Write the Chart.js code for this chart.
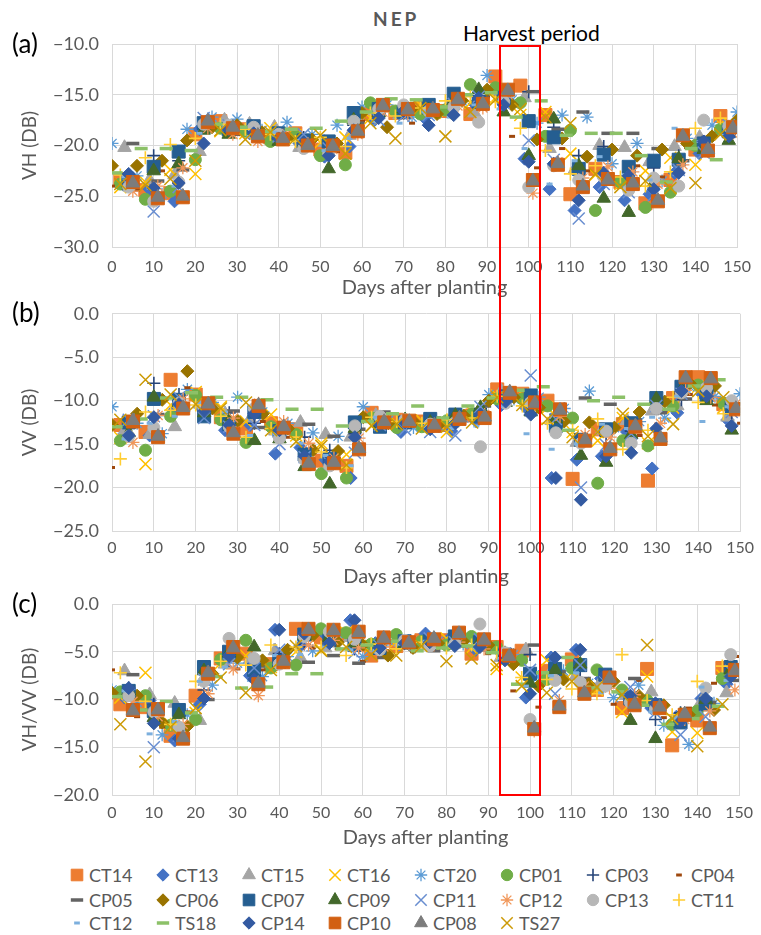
<!DOCTYPE html>
<html lang="en">
<head>
<meta charset="UTF-8">
<title>NEP backscatter after planting</title>
<script src="https://cdn.jsdelivr.net/npm/chart.js"></script>
<style>
  body { margin: 0; background: #fff; font-family: Lato, 'Open Sans', sans-serif; }
  #wrap { position: relative; width: 761px; height: 935px; overflow: hidden; }
  #wrap canvas.panel { position: absolute; left: 0; }
  .tag { position: absolute; left: 12px; font-size: 26px; color: #000; line-height: 30px; }
  #nep { position: absolute; left: 373px; top: 7px; font-size: 19px; font-weight: bold; letter-spacing: 3px; color: #595959; line-height: 24px; }
  #harvestLabel { position: absolute; left: 463px; top: 20px; font-size: 21px; color: #000; line-height: 26px; }
  #harvestBox { position: absolute; border: 2px solid #FF0000; box-sizing: border-box; pointer-events: none; }
  .leg { position: absolute; height: 22px; display: flex; align-items: center; font-size: 18px; color: #595959; white-space: nowrap; }
  .leg canvas { width: 18px; height: 18px; margin-right: 3px; }
</style>
</head>
<body>
<div id="wrap">
  <div id="nep">NEP</div>
  <div id="harvestLabel">Harvest period</div>
  <canvas class="panel" id="chartA" width="761" height="302" style="top:0px"></canvas>
  <canvas class="panel" id="chartB" width="761" height="300" style="top:290px"></canvas>
  <canvas class="panel" id="chartC" width="761" height="270" style="top:580px"></canvas>
  <div class="tag" style="top:28px">(a)</div>
  <div class="tag" style="top:297px">(b)</div>
  <div class="tag" style="top:588px">(c)</div>
  <div id="harvestBox"></div>
  <div id="legend"></div>
</div>

<script>
// Series (legend order)
const seriesNames = ['CT14', 'CT13', 'CT15', 'CT16', 'CT20', 'CP01', 'CP03', 'CP04',
                     'CP05', 'CP06', 'CP07', 'CP09', 'CP11', 'CP12', 'CP13', 'CT11',
                     'CT12', 'TS18', 'CP14', 'CP10', 'CP08', 'TS27'];

// Acquisition days (days after planting) - each field falls on one of these schedules
const daysSched0 = [0, 6, 12, 18, 24, 30, 36, 42, 48, 54, 60, 66, 72, 78, 84, 90, 96, 102, 108, 114, 120, 126, 132, 138, 144, 150];
const daysSched1 = [1, 7, 13, 19, 25, 31, 37, 43, 49, 55, 61, 67, 73, 79, 85, 91, 97, 103, 109, 115, 121, 127, 133, 139, 145];
const daysSched2 = [2, 8, 14, 20, 26, 32, 38, 44, 50, 56, 62, 68, 74, 80, 86, 92, 98, 104, 110, 116, 122, 128, 134, 140, 146];
const daysSched3 = [3, 9, 15, 21, 27, 33, 39, 45, 51, 57, 63, 69, 75, 81, 87, 93, 99, 105, 111, 117, 123, 129, 135, 141, 147];
const daysSched4 = [4, 10, 16, 22, 28, 34, 40, 46, 52, 58, 64, 70, 76, 82, 88, 94, 100, 106, 112, 118, 124, 130, 136, 142, 148];
const daysSched5 = [5, 11, 17, 23, 29, 35, 41, 47, 53, 59, 65, 71, 77, 83, 89, 95, 101, 107, 113, 119, 125, 131, 137, 143, 149];
const daySchedules = [daysSched0, daysSched1, daysSched2, daysSched3, daysSched4, daysSched5];
const seriesSchedule = [2, 3, 3, 2, 0, 2, 4, 0, 5, 0, 4, 4, 4, 5, 4, 2, 3, 1, 4, 5, 5, 2];

// (a) VH backscatter, dB
const vhValues = [
  [-23.3, -24.4, -24.7, -18.9, -17.6, -18.4, -19.2, -18.8, -20.4, -20.7, -16.9, -16.8, -16.2, -16.6, -16.9, -13.2, -14.1, -17.0, -24.8, -22.3, -23.6, -25.7, -23.4, -20.4, -17.1],
  [-23.6, -24.3, -25.5, -18.4, -18.1, -18.8, -19.3, -19.8, -21.1, -20.1, -17.5, -16.9, -17.3, -16.5, -15.9, -15.0, -21.3, -24.3, -26.4, -24.1, -25.4, -24.8, -22.7, -20.8, -18.4],
  [-20.2, -23.4, -22.9, -20.6, -17.5, -17.9, -18.2, -20.2, -19.7, -19.0, -16.6, -17.0, -16.3, -15.8, -16.8, -14.6, -15.3, -20.3, -22.4, -20.0, -20.2, -21.6, -20.1, -19.2, -18.1],
  [-24.1, -23.6, -22.4, -22.8, -18.6, -18.8, -18.3, -19.0, -19.7, -19.2, -17.3, -16.4, -16.0, -16.8, -15.8, -15.3, -17.0, -16.7, -20.8, -22.9, -23.8, -22.5, -21.2, -21.9, -17.9],
  [-19.8, -23.0, -24.8, -18.4, -17.2, -17.4, -18.5, -17.7, -18.9, -18.0, -16.2, -16.0, -17.2, -16.8, -15.6, -13.1, -15.5, -17.8, -17.0, -17.2, -21.8, -19.8, -23.5, -19.3, -18.0, -16.7],
  [-23.8, -25.3, -24.5, -21.4, -18.3, -18.6, -19.6, -19.1, -21.0, -21.9, -15.8, -16.6, -16.9, -16.5, -14.0, -14.3, -15.8, -19.1, -18.5, -26.4, -23.6, -26.1, -24.6, -20.0, -18.4],
  [-23.2, -21.0, -21.5, -18.0, -18.6, -18.3, -19.0, -19.2, -20.0, -18.0, -17.0, -16.8, -16.1, -15.7, -15.1, -15.4, -14.7, -18.2, -21.0, -20.1, -22.6, -22.2, -21.0, -19.6, -18.3],
  [-24.0, -24.4, -22.5, -19.8, -18.0, -18.9, -19.3, -19.0, -19.9, -20.6, -17.6, -16.4, -17.8, -17.0, -15.8, -15.2, -19.1, -22.2, -20.3, -22.5, -23.4, -22.0, -23.1, -20.2, -18.8, -18.3],
  [-19.8, -23.5, -22.4, -18.0, -18.9, -18.5, -19.1, -19.2, -19.6, -17.8, -16.4, -16.3, -16.9, -15.8, -15.2, -14.8, -14.7, -18.4, -16.7, -18.8, -18.8, -20.3, -21.5, -19.2, -18.5],
  [-22.0, -22.0, -21.5, -19.5, -18.2, -18.0, -18.7, -19.3, -19.4, -19.8, -16.8, -18.2, -16.4, -16.9, -15.6, -14.5, -16.0, -19.4, -19.3, -21.1, -20.4, -21.0, -20.4, -19.8, -19.1, -17.5],
  [-23.5, -22.1, -20.6, -17.8, -18.4, -18.1, -18.8, -19.5, -19.6, -16.8, -16.4, -16.7, -16.0, -14.9, -15.7, -15.3, -17.6, -19.2, -22.3, -20.9, -22.1, -21.5, -21.4, -19.8, -18.6],
  [-24.0, -22.5, -21.8, -18.5, -18.9, -18.7, -19.6, -19.8, -22.3, -17.5, -16.8, -16.4, -16.5, -15.6, -14.5, -16.7, -21.0, -17.4, -22.0, -25.2, -26.6, -23.7, -21.3, -20.4, -19.5],
  [-23.9, -26.5, -24.1, -17.3, -18.0, -18.6, -19.1, -18.9, -20.3, -17.9, -17.5, -17.1, -17.0, -15.9, -15.2, -15.8, -19.5, -21.4, -27.2, -23.8, -24.6, -24.9, -22.4, -20.7, -18.0],
  [-24.5, -24.0, -22.2, -18.3, -18.9, -19.6, -19.0, -19.8, -20.4, -18.9, -16.7, -16.9, -16.6, -16.1, -16.3, -15.0, -24.7, -21.6, -23.2, -22.1, -22.6, -23.8, -21.9, -20.6, -18.8],
  [-24.1, -25.5, -23.6, -17.9, -18.0, -18.2, -18.9, -20.3, -20.8, -17.6, -16.4, -16.0, -16.6, -16.2, -17.7, -15.7, -24.1, -22.0, -23.4, -23.1, -24.4, -23.2, -24.0, -17.5, -18.1],
  [-22.9, -21.2, -19.9, -19.3, -17.9, -18.4, -18.9, -19.6, -19.2, -20.1, -16.8, -17.1, -16.3, -15.6, -15.2, -15.7, -18.3, -20.5, -22.8, -22.0, -23.1, -24.0, -22.6, -18.3, -17.3],
  [-23.1, -24.2, -24.0, -18.8, -18.3, -19.1, -18.7, -19.5, -20.5, -19.3, -17.6, -17.8, -16.7, -17.2, -16.0, -16.4, -20.3, -23.8, -21.5, -21.1, -22.9, -23.4, -18.3, -19.6, -19.0],
  [-22.7, -20.3, -20.3, -20.5, -17.9, -18.2, -18.6, -18.4, -18.3, -17.6, -16.7, -15.4, -15.5, -16.2, -15.0, -14.8, -17.2, -15.6, -19.0, -18.8, -18.8, -21.0, -23.6, -20.3, -21.4],
  [-22.8, -24.2, -23.7, -19.8, -18.4, -18.8, -19.3, -19.7, -21.0, -18.5, -17.3, -16.6, -18.0, -17.0, -15.3, -16.0, -21.6, -21.8, -25.4, -22.7, -23.0, -24.3, -22.7, -19.6, -19.1],
  [-23.6, -25.2, -25.1, -17.7, -18.3, -19.1, -19.4, -20.0, -20.0, -18.6, -16.0, -16.4, -16.5, -15.4, -15.9, -14.5, -23.4, -21.9, -24.1, -23.3, -23.8, -25.5, -19.0, -20.5, -18.2],
  [-23.7, -25.1, -25.0, -17.6, -18.2, -19.0, -19.3, -20.0, -20.1, -18.6, -16.1, -16.5, -16.4, -15.5, -15.9, -14.6, -23.5, -21.8, -24.0, -23.4, -23.7, -25.4, -19.1, -20.4, -18.3],
  [-23.8, -23.9, -23.3, -21.5, -18.5, -19.4, -18.7, -19.3, -19.0, -20.8, -17.8, -19.3, -16.3, -19.1, -16.7, -15.5, -16.4, -17.2, -17.8, -22.8, -24.1, -23.5, -24.2, -23.7, -18.9]
];

// (b) VV backscatter, dB
const vvValues = [
  [-12.8, -13.6, -7.6, -9.3, -11.9, -13.2, -12.6, -13.3, -16.9, -17.5, -11.4, -12.2, -12.4, -12.8, -11.7, -8.7, -9.2, -10.0, -19.0, -13.3, -12.7, -19.2, -9.7, -7.3, -10.4],
  [-13.8, -14.0, -11.0, -10.7, -13.4, -12.8, -16.1, -15.4, -16.8, -18.9, -12.3, -13.6, -12.9, -13.5, -12.4, -10.5, -10.9, -18.9, -16.8, -16.4, -13.6, -17.8, -11.4, -9.3, -12.2],
  [-13.5, -13.9, -13.0, -10.4, -11.5, -12.1, -13.5, -12.5, -13.9, -14.2, -11.7, -12.9, -12.2, -12.4, -11.8, -8.9, -9.6, -12.3, -14.8, -13.4, -12.3, -11.2, -10.6, -8.5, -11.9],
  [-14.3, -17.3, -10.5, -9.0, -10.7, -12.4, -11.6, -14.0, -14.9, -16.2, -12.9, -12.6, -12.3, -13.6, -11.3, -9.4, -9.3, -10.8, -13.6, -14.6, -12.0, -14.9, -10.8, -8.4, -10.8],
  [-10.7, -12.6, -13.8, -8.7, -10.2, -9.6, -11.3, -12.6, -13.7, -14.1, -10.7, -12.3, -13.1, -12.9, -12.0, -9.3, -9.8, -9.6, -10.9, -8.9, -13.1, -12.4, -12.0, -8.4, -9.5, -9.2],
  [-14.6, -15.7, -11.8, -9.4, -12.2, -14.8, -13.0, -13.9, -18.4, -18.9, -12.0, -13.1, -13.0, -12.3, -11.5, -9.8, -9.8, -10.6, -12.0, -19.5, -14.6, -15.2, -10.6, -8.2, -10.3],
  [-12.9, -8.0, -9.3, -10.6, -11.4, -12.6, -13.6, -14.2, -15.7, -13.8, -12.1, -12.6, -12.9, -11.9, -10.9, -10.1, -10.0, -11.6, -14.6, -14.1, -13.5, -10.8, -9.9, -9.0, -11.4],
  [-17.7, -12.3, -9.6, -8.5, -10.9, -12.1, -12.4, -14.2, -15.3, -15.9, -11.6, -12.4, -12.8, -13.1, -11.8, -10.0, -9.4, -11.3, -12.4, -14.3, -12.9, -14.0, -11.2, -9.3, -10.5, -12.6],
  [-12.9, -11.6, -10.5, -11.2, -11.2, -13.1, -13.0, -12.7, -14.1, -13.3, -11.3, -12.1, -12.0, -11.6, -10.6, -9.7, -10.2, -11.6, -9.7, -10.4, -12.2, -11.4, -9.8, -8.7, -10.4],
  [-12.8, -11.5, -9.9, -6.6, -10.9, -12.3, -11.5, -13.2, -15.7, -15.8, -11.9, -12.6, -12.4, -12.8, -11.7, -10.0, -9.6, -10.8, -12.4, -12.5, -13.1, -11.3, -10.1, -8.0, -8.3, -10.9],
  [-12.5, -9.8, -9.9, -11.8, -12.7, -11.3, -13.5, -16.2, -16.7, -12.5, -13.0, -12.5, -12.1, -11.6, -11.8, -9.5, -9.4, -12.9, -14.5, -13.3, -12.6, -9.7, -8.4, -9.4, -10.8],
  [-13.7, -9.6, -10.2, -11.4, -12.3, -14.6, -14.4, -17.6, -19.6, -13.2, -12.7, -12.2, -12.5, -11.7, -10.8, -10.2, -11.3, -12.1, -16.3, -17.1, -13.9, -9.8, -8.8, -10.0, -13.4],
  [-12.2, -11.8, -9.6, -12.0, -13.0, -12.8, -15.0, -16.5, -17.2, -16.0, -12.8, -13.3, -13.6, -14.0, -10.7, -9.5, -7.1, -12.1, -20.0, -15.1, -13.8, -10.6, -9.2, -8.8, -11.3],
  [-14.8, -11.7, -9.8, -10.2, -12.0, -10.3, -12.4, -14.9, -16.6, -14.3, -12.2, -12.4, -12.9, -12.0, -11.6, -8.9, -10.5, -11.8, -13.9, -14.2, -13.1, -12.6, -8.8, -9.6, -10.4],
  [-14.1, -13.1, -10.3, -11.0, -13.0, -10.9, -14.3, -16.8, -17.5, -12.9, -11.8, -12.2, -12.7, -12.5, -15.3, -10.3, -10.2, -13.7, -14.9, -13.5, -14.9, -10.9, -9.1, -8.5, -10.0],
  [-16.7, -11.3, -11.1, -10.5, -11.8, -14.2, -13.2, -14.2, -15.9, -17.7, -11.9, -12.4, -12.6, -12.2, -12.0, -9.5, -10.6, -12.6, -13.4, -12.1, -15.6, -13.4, -9.6, -10.2, -11.5],
  [-14.4, -12.6, -11.8, -10.2, -11.3, -14.0, -13.8, -14.9, -16.3, -17.5, -11.9, -12.5, -13.0, -13.2, -12.9, -10.6, -13.8, -15.6, -15.0, -12.7, -13.2, -11.9, -9.5, -12.4, -10.7],
  [-13.0, -12.1, -9.7, -9.1, -9.6, -9.6, -9.9, -11.0, -11.0, -12.9, -12.4, -11.5, -10.6, -12.0, -10.6, -9.7, -8.8, -8.4, -13.4, -10.0, -9.6, -10.4, -11.0, -8.3, -7.6],
  [-14.0, -11.9, -10.4, -11.2, -12.8, -11.5, -13.4, -16.4, -17.0, -14.2, -12.7, -12.5, -13.3, -12.6, -11.6, -10.1, -11.6, -18.9, -21.4, -16.4, -16.0, -13.2, -8.9, -9.5, -12.9],
  [-12.4, -14.2, -10.9, -10.3, -13.8, -10.6, -13.1, -17.3, -17.2, -15.6, -12.5, -12.3, -12.9, -12.1, -12.0, -9.1, -10.2, -11.0, -14.6, -15.6, -13.0, -14.4, -7.3, -7.4, -11.0],
  [-12.3, -14.1, -10.8, -10.4, -13.7, -10.5, -13.0, -17.2, -17.1, -15.5, -12.4, -12.4, -12.8, -12.0, -11.9, -9.0, -10.3, -11.1, -14.5, -15.5, -12.9, -14.3, -7.4, -7.5, -10.9],
  [-12.2, -7.6, -9.3, -10.4, -10.9, -10.2, -13.4, -14.7, -15.2, -17.4, -12.9, -12.7, -13.2, -13.0, -12.5, -9.6, -10.5, -12.1, -14.2, -13.6, -11.5, -14.1, -12.7, -8.9, -9.6]
];

// (c) VH/VV ratio, dB
const ratioValues = [
  [-10.5, -10.8, -13.8, -9.6, -5.7, -5.2, -6.3, -2.6, -3.5, -3.2, -5.4, -4.4, -3.8, -3.8, -5.2, -4.5, -4.9, -7.0, -5.8, -9.0, -10.9, -6.8, -14.8, -12.2, -6.7],
  [-9.8, -10.1, -14.3, -10.5, -6.0, -7.5, -2.7, -4.4, -3.2, -1.7, -4.1, -4.2, -3.1, -3.5, -4.8, -5.1, -9.8, -5.6, -4.8, -7.8, -9.7, -10.9, -11.8, -9.9, -8.4],
  [-7.0, -9.5, -10.4, -12.2, -6.3, -5.8, -4.9, -5.6, -4.6, -3.5, -4.6, -4.0, -4.4, -3.7, -4.4, -5.6, -4.8, -7.1, -7.5, -8.1, -9.6, -9.2, -12.4, -10.2, -9.3],
  [-9.8, -7.2, -12.6, -11.4, -6.2, -5.4, -6.6, -5.0, -4.8, -3.0, -4.4, -3.9, -4.2, -3.6, -4.6, -6.8, -7.7, -5.9, -7.2, -9.0, -11.3, -7.6, -13.4, -13.5, -7.5],
  [-9.0, -10.3, -13.7, -11.6, -8.5, -6.2, -7.6, -5.5, -4.9, -3.1, -5.5, -3.8, -4.4, -3.9, -4.2, -4.5, -5.3, -7.6, -7.0, -8.3, -9.8, -8.5, -12.7, -14.7, -10.4, -7.3],
  [-9.2, -9.6, -12.7, -12.1, -5.8, -3.8, -6.7, -6.4, -2.6, -3.0, -4.2, -3.2, -3.9, -4.3, -3.4, -4.5, -5.9, -7.9, -6.7, -6.9, -9.0, -10.1, -12.6, -11.2, -7.8],
  [-8.8, -10.5, -12.9, -9.0, -5.9, -6.3, -5.2, -4.2, -3.3, -4.7, -4.5, -3.9, -3.8, -3.9, -4.2, -5.1, -5.3, -7.4, -7.0, -7.7, -9.9, -12.1, -11.4, -10.3, -6.4],
  [-6.9, -11.8, -12.9, -11.3, -7.1, -6.8, -6.9, -4.8, -4.6, -4.7, -6.0, -4.0, -5.0, -3.9, -4.3, -5.2, -9.1, -10.8, -7.9, -8.2, -10.5, -8.0, -11.9, -10.9, -8.3, -5.5],
  [-7.4, -11.2, -13.0, -10.0, -5.9, -6.5, -5.6, -6.1, -5.4, -6.2, -5.6, -4.6, -4.9, -4.4, -4.8, -5.8, -4.3, -7.1, -7.8, -8.3, -7.8, -10.4, -11.6, -10.3, -8.0],
  [-9.3, -9.6, -12.4, -12.8, -7.3, -5.6, -5.9, -4.8, -3.3, -4.0, -4.3, -5.4, -4.6, -4.1, -3.9, -4.3, -6.3, -8.6, -7.9, -8.4, -8.1, -9.6, -10.6, -11.6, -11.1, -7.0],
  [-9.1, -11.2, -11.1, -6.6, -5.0, -6.9, -6.0, -3.2, -3.8, -4.3, -4.6, -3.9, -3.9, -3.4, -4.0, -5.3, -7.3, -6.8, -6.4, -7.4, -9.9, -10.6, -12.4, -10.5, -6.6],
  [-9.1, -11.9, -11.6, -7.0, -5.1, -4.5, -6.3, -3.3, -3.5, -4.1, -3.9, -4.2, -4.1, -3.7, -3.9, -5.2, -8.3, -6.9, -6.3, -8.4, -12.2, -14.1, -11.6, -10.0, -6.9],
  [-9.5, -15.0, -13.8, -7.9, -6.3, -6.7, -4.8, -4.0, -3.6, -5.1, -4.4, -4.3, -3.6, -4.0, -3.7, -5.2, -6.9, -9.4, -6.4, -8.2, -8.7, -11.4, -13.7, -11.8, -7.0],
  [-10.2, -11.8, -12.6, -9.4, -6.8, -9.6, -6.0, -4.3, -3.8, -4.6, -4.5, -4.1, -4.3, -4.0, -4.7, -5.6, -13.3, -10.1, -8.6, -8.8, -9.5, -11.0, -12.1, -11.2, -9.0],
  [-9.6, -11.3, -12.9, -8.1, -3.6, -5.7, -6.3, -3.4, -2.9, -3.7, -4.8, -3.8, -4.4, -4.2, -2.1, -5.1, -12.1, -8.0, -8.2, -8.6, -10.3, -11.0, -12.1, -8.8, -5.3],
  [-7.2, -10.2, -12.6, -8.1, -6.0, -6.4, -4.3, -4.5, -4.5, -5.4, -4.2, -4.7, -4.0, -4.6, -4.3, -5.1, -7.7, -7.9, -8.9, -9.4, -5.3, -10.1, -11.6, -8.1, -6.5],
  [-9.1, -13.6, -12.3, -8.1, -6.6, -8.0, -5.4, -5.3, -4.5, -4.8, -4.9, -4.2, -3.9, -4.3, -4.6, -5.7, -8.6, -7.5, -7.2, -9.3, -9.6, -11.3, -11.9, -8.7, -8.0],
  [-9.7, -11.1, -10.2, -11.4, -7.6, -8.8, -8.7, -7.3, -7.3, -4.7, -4.3, -3.9, -4.9, -4.6, -4.4, -5.1, -8.4, -7.2, -5.6, -8.8, -9.2, -10.6, -12.6, -12.0, -10.7],
  [-8.8, -12.5, -14.1, -9.9, -5.4, -7.9, -2.7, -3.1, -4.1, -1.7, -4.6, -4.1, -4.0, -4.4, -4.5, -5.9, -9.4, -5.6, -4.8, -7.4, -9.6, -10.4, -12.3, -9.9, -7.6],
  [-11.1, -11.0, -14.1, -7.3, -4.5, -8.4, -6.1, -2.6, -2.7, -2.9, -3.5, -4.0, -3.7, -3.0, -3.7, -5.4, -13.1, -10.8, -9.4, -7.7, -10.6, -10.9, -11.6, -13.0, -6.9],
  [-11.2, -11.1, -14.0, -7.2, -4.6, -8.3, -6.0, -2.7, -2.8, -3.0, -3.6, -4.1, -3.6, -3.1, -3.8, -5.5, -13.0, -10.7, -9.3, -7.8, -10.5, -10.8, -11.5, -12.9, -7.0],
  [-12.6, -16.5, -12.9, -10.9, -7.7, -9.3, -6.9, -4.4, -4.9, -4.5, -5.3, -5.4, -4.4, -6.0, -5.7, -6.4, -8.6, -9.3, -8.1, -8.7, -9.5, -4.3, -12.0, -14.9, -10.5]
];

// Axis ticks
const xTicks = [0, 10, 20, 30, 40, 50, 60, 70, 80, 90, 100, 110, 120, 130, 140, 150];
const yTicksVH = [-30, -25, -20, -15, -10];
const yTicksVV = [-25, -20, -15, -10, -5, 0];
const yTicksRatio = [-20, -15, -10, -5, 0];
const harvestWindow = [93.1, 102.6];

// Marker styles (Excel-like)
const seriesShapes = ['square', 'diamond', 'triangle', 'x', 'star', 'circle', 'plus', 'dashS',
                      'dashL', 'diamond', 'square', 'triangle', 'x', 'star', 'circle', 'plus',
                      'dashS', 'dashL', 'diamond', 'square', 'triangle', 'x'];
const seriesColors = ['#ED7D31', '#4472C4', '#A5A5A5', '#FFC000', '#5B9BD5', '#70AD47', '#264478', '#9E480E',
                      '#636363', '#997300', '#255E91', '#43682B', '#698ED0', '#F1975A', '#B7B7B7', '#FFCD33',
                      '#7CAFDD', '#8CC168', '#335AA1', '#D26012', '#7C7C7C', '#CC9A06'];
const shapeSpec = {
  square:   { style: 'rect',     radius: 9.2, border: 1,   fill: true },
  diamond:  { style: 'rectRot',  radius: 6.5, border: 1,   fill: true },
  triangle: { style: 'triangle', radius: 7.8, border: 1,   fill: true },
  circle:   { style: 'circle',   radius: 6,   border: 1,   fill: true },
  x:        { style: 'crossRot', radius: 8.5, border: 1.5, fill: false },
  star:     { style: 'star',     radius: 6.5, border: 1.3, fill: false },
  plus:     { style: 'cross',    radius: 6.5, border: 1.6, fill: false },
  dashS:    { style: 'line',     radius: 3,   border: 3,   fill: false },
  dashL:    { style: 'line',     radius: 6.5, border: 3.5, fill: false }
};

const FONT = "Lato, 'Open Sans', sans-serif";
const TEXT = '#595959';
const GRID = '#D9D9D9';

function buildDatasets(values) {
  return seriesNames.map((name, i) => {
    const days = daySchedules[seriesSchedule[i]];
    const spec = shapeSpec[seriesShapes[i]];
    const c = seriesColors[i];
    return {
      label: name,
      data: days.map((d, k) => ({ x: d, y: values[i][k] })),
      pointStyle: spec.style,
      pointRadius: spec.radius,
      pointHoverRadius: spec.radius,
      pointBorderWidth: spec.border,
      pointBackgroundColor: spec.fill ? c : 'rgba(0,0,0,0)',
      pointBorderColor: c,
      backgroundColor: c,
      borderColor: c,
      order: -i   // later series drawn on top, as in Excel
    };
  });
}

const fmtY = v => (v < 0 ? '\u2212' : '') + Math.abs(v).toFixed(1);

function makePanel(id, values, yTicks, yTitle, box) {
  return new Chart(document.getElementById(id), {
    type: 'scatter',
    data: { datasets: buildDatasets(values) },
    options: {
      responsive: false,
      animation: false,
      events: [],
      layout: { padding: { top: box.top, right: 18, left: 0, bottom: 0 } },
      plugins: { legend: { display: false }, tooltip: { enabled: false } },
      scales: {
        x: {
          type: 'linear', min: 0, max: 150,
          afterBuildTicks: s => { s.ticks = xTicks.map(v => ({ value: v })); },
          afterFit: s => { s.height = box.xHeight; },
          grid: { color: GRID, lineWidth: 1, drawTicks: false },
          border: { color: GRID },
          ticks: { color: TEXT, font: { family: FONT, size: 16 }, padding: box.tickPad, maxRotation: 0, autoSkip: false },
          title: { display: true, text: 'Days after planting', color: TEXT,
                   font: { family: FONT, size: 20 }, padding: { top: 0, bottom: box.titlePad } }
        },
        y: {
          type: 'linear', min: yTicks[0], max: yTicks[yTicks.length - 1],
          afterBuildTicks: s => { s.ticks = yTicks.map(v => ({ value: v })); },
          afterFit: s => { s.width = 112; },
          grid: { color: GRID, lineWidth: 1, drawTicks: false },
          border: { color: GRID },
          ticks: { color: TEXT, font: { family: FONT, size: 18 }, padding: 13, callback: fmtY },
          title: { display: true, text: yTitle, color: TEXT,
                   font: { family: FONT, size: 19 }, padding: { top: 18, bottom: 0 } }
        }
      }
    }
  });
}

const chartA = makePanel('chartA', vhValues, yTicksVH, 'VH (DB)', { top: 44, xHeight: 55, tickPad: 10, titlePad: 2 });
const chartB = makePanel('chartB', vvValues, yTicksVV, 'VV (DB)', { top: 23, xHeight: 59, tickPad: 7, titlePad: 1 });
const chartC = makePanel('chartC', ratioValues, yTicksRatio, 'VH/VV (DB)', { top: 24, xHeight: 55, tickPad: 8, titlePad: 0 });

// Harvest period box spanning all three panels
(function () {
  const xs = chartA.scales.x;
  const left = xs.getPixelForValue(harvestWindow[0]);
  const right = xs.getPixelForValue(harvestWindow[1]);
  const top = 0 + chartA.chartArea.top + 1;
  const bottom = 580 + chartC.chartArea.bottom;
  const el = document.getElementById('harvestBox');
  el.style.left = (left - 1) + 'px';
  el.style.width = (right - left + 2) + 'px';
  el.style.top = top + 'px';
  el.style.height = (bottom - top + 1) + 'px';
})();

// Legend: 8 columns, 3 rows
(function () {
  const holder = document.getElementById('legend');
  const colX = [77, 163, 249, 335, 421, 507, 593, 679];
  const rowY = [875, 900, 923];
  seriesNames.forEach((name, i) => {
    const item = document.createElement('div');
    item.className = 'leg';
    item.style.left = (colX[i % 8] - 9) + 'px';
    item.style.top = (rowY[Math.floor(i / 8)] - 11) + 'px';
    const cv = document.createElement('canvas');
    cv.width = 18; cv.height = 18;
    const ctx = cv.getContext('2d');
    const spec = shapeSpec[seriesShapes[i]];
    ctx.fillStyle = seriesColors[i];
    ctx.strokeStyle = seriesColors[i];
    ctx.lineWidth = spec.border;
    const r = spec.style === 'rect' ? 8.2 : spec.radius * 0.95;
    Chart.helpers.drawPoint(ctx, { pointStyle: spec.style, radius: r, borderWidth: spec.border, rotation: 0 }, 9, 9);
    item.appendChild(cv);
    const t = document.createElement('span');
    t.textContent = name;
    item.appendChild(t);
    holder.appendChild(item);
  });
})();
</script>
</body>
</html>
